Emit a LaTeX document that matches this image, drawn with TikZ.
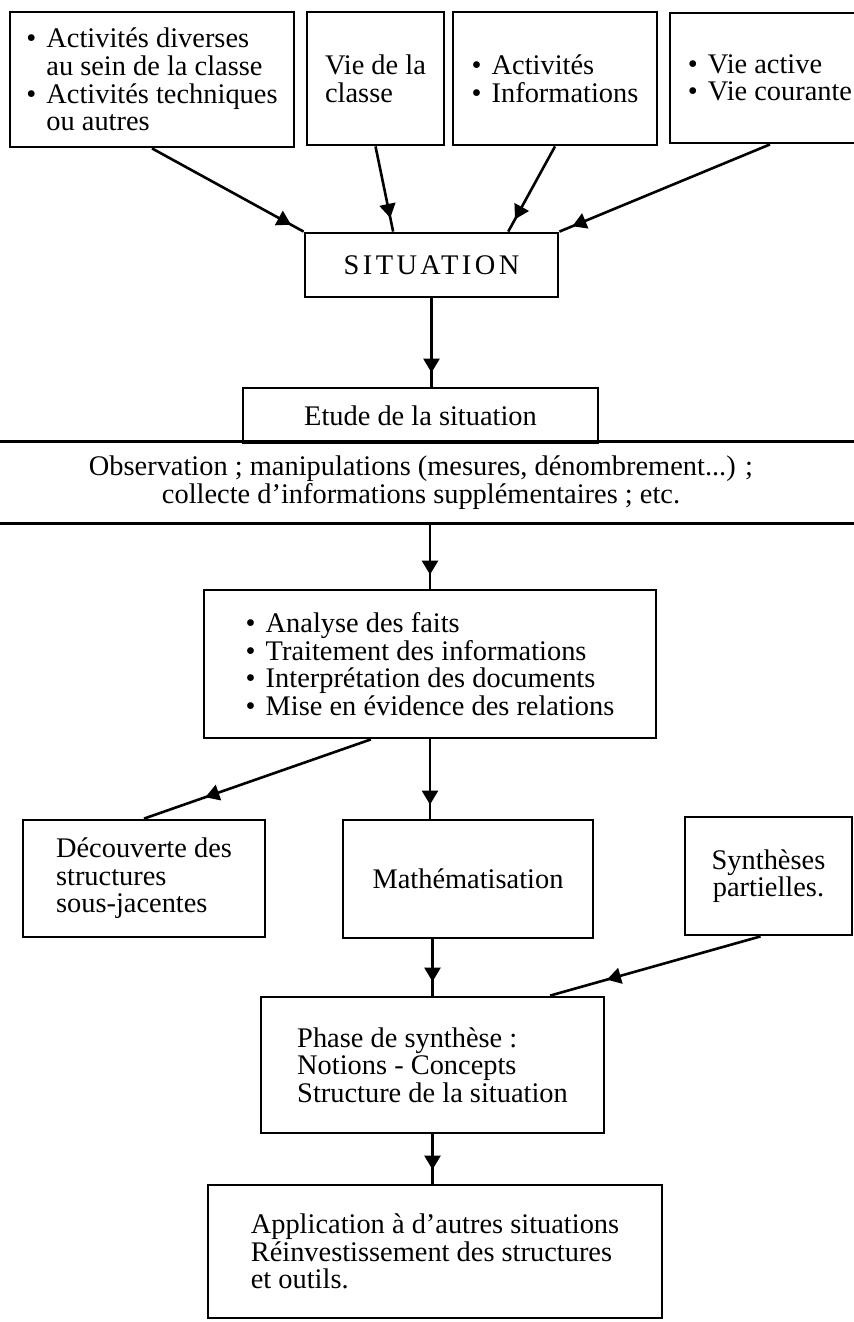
\documentclass[tikz,border=0pt]{standalone}
\usepackage{fontspec}
\setmainfont{Liberation Serif}
\usetikzlibrary{calc,arrows.meta,decorations.markings}

\newcommand{\itm}{\makebox[10pt][l]{\textbullet}}
\newcommand{\cont}{\hspace*{10pt}}

\begin{document}
\begin{tikzpicture}[x=0.5pt,y=-0.5pt]
                \tikzstyle{box}=[draw, line width=1.4pt, inner sep=0pt, align=left,
                    font=\fontsize{14.2}{13.8}\selectfont]
                \tikzstyle{flow}=[line width=1.3pt, postaction={decorate},
                    decoration={markings, mark=at position -7pt with {\arrow{Triangle[length=7pt,width=8pt]}}}]
                \tikzstyle{flowmid}=[line width=1.3pt, postaction={decorate},
                    decoration={markings, mark=at position 0.73 with {\arrow{Triangle[length=7pt,width=8pt]}}}]

                \useasboundingbox (0,0) rectangle (854,1322);
                \clip (0,0) rectangle (854,1322);

                % sources
                \node[box, minimum width=142pt, minimum height=67.5pt] (act) at (152,79.5)
                    {\itm Activités diverses\\ \cont au sein de la classe\\ \itm Activités techniques\\ \cont ou autres};
                \node[box, minimum width=68.5pt, minimum height=66.5pt] (vie) at (375.5,78.5) {Vie de la\\ classe};
                \node[box, minimum width=102pt, minimum height=66.5pt] (info) at (555,78.5) {\itm Activités\\ \itm Informations};
                \node[box, minimum width=100pt, minimum height=65pt] (cour) at (770,78) {\itm Vie active\\ \itm Vie courante};

                \node[box, minimum width=126.5pt, minimum height=32pt] (sit) at (431.5,265)
                    {\addfontfeature{LetterSpace=12}SITUATION};

                \node[box, minimum width=177.5pt, minimum height=27.5pt] (etude) at (420.5,415.5) {Etude de la situation};
                \node[box, draw=none, align=center, minimum width=440pt, minimum height=39.5pt] (obs) at (421,482.5)
                    {Observation ; manipulations (mesures, dénombrement...) ;\\ collecte d'informations supplémentaires ; etc.};
                \draw[line width=1.4pt] (obs.north west) -- (obs.north east) (obs.south west) -- (obs.south east);

                \node[box, minimum width=226pt, minimum height=74pt] (ana) at (430,664)
                    {\itm Analyse des faits\\ \itm Traitement des informations\\ \itm Interprétation des documents\\ \itm Mise en évidence des relations};

                \node[box, minimum width=121pt, minimum height=58.5pt] (dec) at (144,878.5) {Découverte des\\ structures\\ sous-jacentes};
                \node[box, minimum width=125pt, minimum height=59pt] (math) at (468,879) {Mathématisation};
                \node[box, align=center, minimum width=83.5pt, minimum height=59pt] (syn) at (768.5,876) {Synthèses\\ partielles.};

                \node[box, minimum width=171.5pt, minimum height=68pt] (phase) at (432.5,1065)
                    {Phase de synthèse :\\ Notions - Concepts\\ Structure de la situation};
                \node[box, minimum width=227pt, minimum height=66.5pt] (app) at (435,1251.5)
                    {Application à d’autres situations\\ Réinvestissement des structures\\ et outils.};

                % arrows
                \draw[flow] (act.south) -- (sit.north west);
                \draw[flow] (vie.south) -- ($(sit.north west)!0.35!(sit.north east)$);
                \draw[flow] (info.south) -- ($(sit.north west)!0.8!(sit.north east)$);
                \draw[flow] (cour.south) -- (sit.north east);
                \draw[flow] (sit.south) -- (sit.south |- etude.north);
                \draw[flow] (obs.south -| ana.north) -- (ana.north);
                \draw[flowmid] ($(ana.south west)!0.37!(ana.south east)$) -- (dec.north);
                \draw[flow] (ana.south) -- (ana.south |- math.north);
                \draw[flow] (math.south -| phase.north) -- (phase.north);
                \draw[flowmid] ($(syn.south)+(-8,0)$) -- ($(phase.north west)!0.84!(phase.north east)$);
                \draw[flow] (phase.south) -- (phase.south |- app.north);
            \end{tikzpicture}
\end{document}
